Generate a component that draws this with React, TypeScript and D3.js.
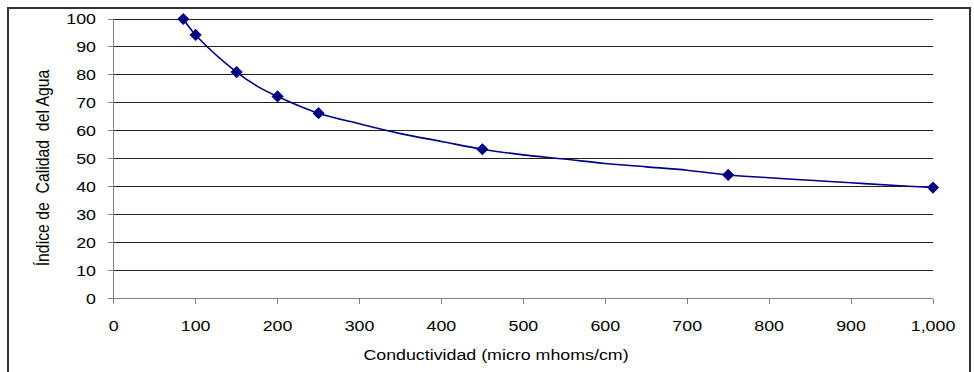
import React from "react";
import * as d3 from "d3";

const markerX = [85, 100, 150, 200, 250, 450, 750, 1000];
const markerY = [100, 94.3, 81, 72.3, 66.3, 53.4, 44.2, 39.7];

const curveX = [85, 100, 150, 175, 200, 250, 300, 350, 400, 450, 500, 550, 600, 650, 700, 750, 800, 850, 900, 950, 1000];
const curveY = [100, 94.3, 81, 76, 72.3, 66.3, 62.5, 59, 56.2, 53.4, 51.4, 49.9, 48.3, 47.1, 45.9, 44.2, 43.2, 42.3, 41.4, 40.5, 39.7];

const xTicks = [0, 100, 200, 300, 400, 500, 600, 700, 800, 900, 1000];
const yTicks = [0, 10, 20, 30, 40, 50, 60, 70, 80, 90, 100];

const xTitle = "Conductividad (micro mhoms/cm)";
const yTitle = "Índice de  Calidad  del Agua";

export default function App() {
  const W = 974;
  const H = 372;
  const left = 113.7;
  const right = 933;
  const top = 19;
  const bottom = 298.5;
  const sx = 1.15;

  const x = d3.scaleLinear().domain([0, 1000]).range([left, right]);
  const y = d3.scaleLinear().domain([0, 100]).range([bottom, top]);
  const fmt = d3.format(",");

  const line = d3
    .line<[number, number]>()
    .x((d) => x(d[0]))
    .y((d) => y(d[1]))
    .curve(d3.curveCatmullRom.alpha(0.5));
  const pts: [number, number][] = curveX.map((v, i) => [v, curveY[i]]);
  const diamond = d3.symbol().type(d3.symbolDiamond2).size(95)();

  const font = "'Liberation Sans', Arial, sans-serif";
  const fs = 15.5;

  return (
    <div style={{ position: "absolute", left: 0, top: 0 }}>
      <svg width={W} height={H} style={{ display: "block", background: "#fff" }}>
        <rect x={8} y={8} width={962} height={380} fill="#fff" stroke="#333" strokeWidth={2} />
        {yTicks.filter((t) => t > 0).map((t) => (
          <line key={"g" + t} x1={left} x2={right} y1={y(t)} y2={y(t)} stroke="#222" strokeWidth={1} shapeRendering="crispEdges" />
        ))}
        <line x1={left} x2={left} y1={top} y2={bottom} stroke="#808080" strokeWidth={1} shapeRendering="crispEdges" />
        <line x1={left} x2={right} y1={bottom} y2={bottom} stroke="#808080" strokeWidth={1} shapeRendering="crispEdges" />
        {yTicks.map((t) => (
          <g key={"y" + t}>
            <line x1={left - 6} x2={left} y1={y(t)} y2={y(t)} stroke="#808080" shapeRendering="crispEdges" />
            <text transform={`translate(96,${y(t)}) scale(${sx},1)`} dy="0.35em" textAnchor="end" fontFamily={font} fontSize={fs} fill="#000">
              {t}
            </text>
          </g>
        ))}
        {xTicks.map((t) => (
          <g key={"x" + t}>
            <line x1={x(t)} x2={x(t)} y1={bottom} y2={bottom + 5} stroke="#808080" shapeRendering="crispEdges" />
            <text transform={`translate(${x(t)},326) scale(${sx},1)`} dy="0.35em" textAnchor="middle" fontFamily={font} fontSize={fs} fill="#000">
              {fmt(t)}
            </text>
          </g>
        ))}
        <text
          transform={`translate(496,355) scale(${sx},1)`}
          dy="0.35em"
          textAnchor="middle"
          fontFamily={font}
          fontSize={fs}
          fill="#000"
          style={{ whiteSpace: "pre" }}
        >
          {xTitle}
        </text>
        <text
          transform={`translate(43,168) scale(${sx},1) rotate(-90)`}
          dy="0.35em"
          textAnchor="middle"
          fontFamily={font}
          fontSize={15.8}
          fill="#000"
          style={{ whiteSpace: "pre" }}
        >
          {yTitle}
        </text>
        <path d={line(pts) || ""} fill="none" stroke="#000080" strokeWidth={1.6} />
        {markerX.map((v, i) => (
          <path key={"m" + i} d={diamond || ""} transform={`translate(${x(v)},${y(markerY[i])})`} fill="#000080" />
        ))}
      </svg>
    </div>
  );
}
